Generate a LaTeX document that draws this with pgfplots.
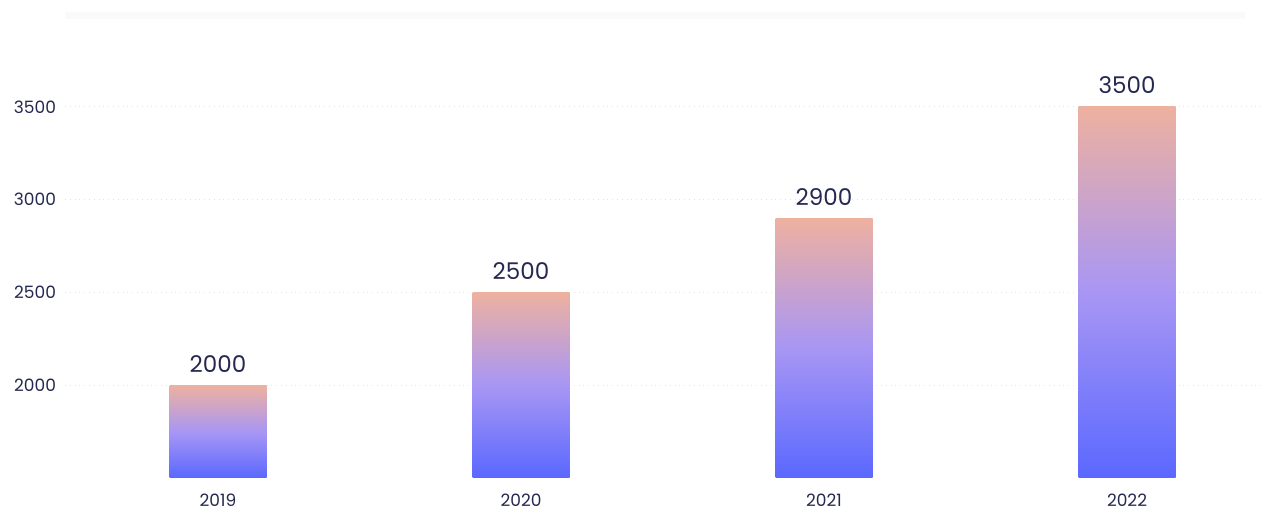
\documentclass[border=0pt]{standalone}
\usepackage{fontspec}
\setmainfont{Poppins}
\usepackage{pgfplots}
\pgfplotsset{compat=1.18}
\definecolor{bartop}{HTML}{EEB1A0}
\definecolor{barmid}{HTML}{A896F4}
\definecolor{barbot}{HTML}{5A68FF}
\definecolor{navy}{HTML}{25284F}
\definecolor{gridc}{HTML}{E4E4E8}
\definecolor{bandc}{HTML}{FAFAFA}
\begin{document}
\begin{tikzpicture}
\begin{axis}[
  name=ax,
  scale only axis,
  width=599.5pt, height=232pt,
  xmin=-0.505, xmax=3.452,
  ymin=1500, ymax=4000,
  axis line style={draw=none},
  xtick={0,1,2,3},
  xticklabels={2019,2020,2021,2022},
  ytick={2000,2500,3000,3500},
  major tick length=0pt,
  ymajorgrids,
  grid style={gridc, dotted, line width=0.5pt},
  tick label style={font=\fontsize{8.5}{10}\selectfont, text=navy},
  /pgf/number format/assume math mode=true,
  /pgf/number format/1000 sep={},
  yticklabel style={anchor=east, xshift=-1pt},
  xticklabel style={anchor=north, yshift=-7.5pt, inner sep=0.5pt},
  every node near coord/.style={font=\fontsize{11.5}{13}\selectfont, text=navy, anchor=south, yshift=3pt},
  clip=false,
]
\draw[bandc, line width=3.5pt] (axis cs:-0.505,3990) -- (axis cs:3.39,3990);
\addplot[ybar, bar width=48.5pt, bar shift=0pt, draw=none,
  top color=bartop, bottom color=barbot, middle color=barmid,
  nodes near coords] coordinates {(0,2000)};
\addplot[ybar, bar width=48.5pt, bar shift=0pt, draw=none,
  top color=bartop, bottom color=barbot, middle color=barmid,
  nodes near coords] coordinates {(1,2500)};
\addplot[ybar, bar width=48.5pt, bar shift=0pt, draw=none,
  top color=bartop, bottom color=barbot, middle color=barmid,
  nodes near coords] coordinates {(2,2900)};
\addplot[ybar, bar width=48.5pt, bar shift=0pt, draw=none,
  top color=bartop, bottom color=barbot, middle color=barmid,
  nodes near coords] coordinates {(3,3500)};
\end{axis}
\pgfresetboundingbox
\path (ax.south west) ++(-32.5pt,-16.5pt) rectangle ([yshift=7pt]ax.north east);
\end{tikzpicture}
\end{document}
